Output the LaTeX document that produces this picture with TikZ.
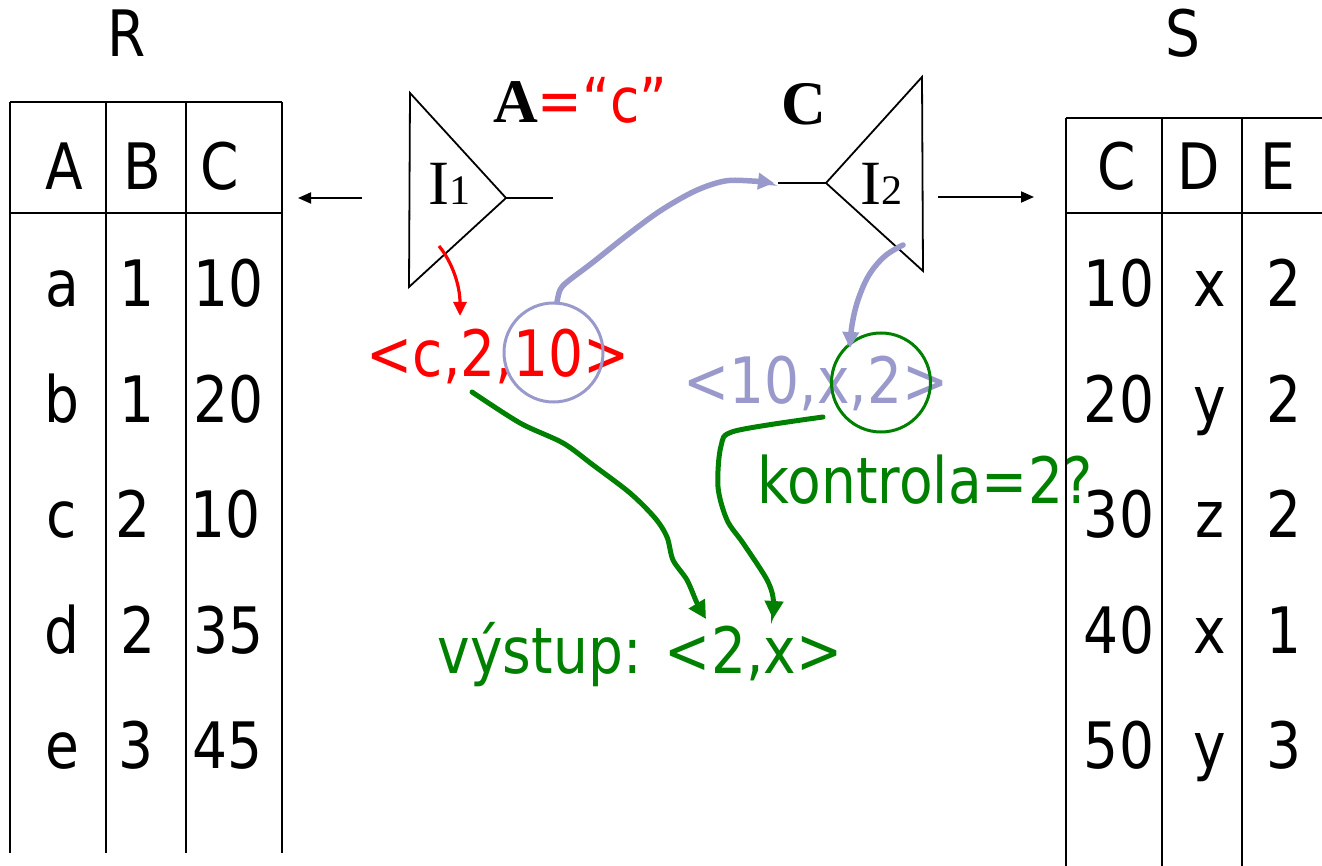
\documentclass[tikz,border=0pt]{standalone}
\usepackage{fontspec}
\setmainfont{DejaVu Sans}[FakeStretch=0.86]
\newfontfamily\timesf{Liberation Serif}
\usetikzlibrary{arrows.meta}
\definecolor{lil}{RGB}{153,153,204}
\definecolor{grn}{RGB}{0,128,0}
\begin{document}
\begin{tikzpicture}[x=1pt,y=-1pt,
  txt/.style={anchor=base, inner sep=0pt, font=\fontsize{64}{72}\selectfont},
  grid/.style={line width=2.2pt, black},
  tri/.style={line width=1.8pt, black, line join=miter},
  blk/.style={line width=1.8pt, -{Triangle[length=13pt,width=11pt]}},
  lilarrow/.style={line width=5.5pt, lil, line cap=round, -{Triangle[length=16pt,width=16pt]}},
  grnarrow/.style={line width=5pt, grn, line cap=round, -{Triangle[length=18pt,width=18pt]}},
  redarrow/.style={line width=3.2pt, red, -{Triangle[length=14pt,width=13pt]}},
  ring/.style={circle, draw, minimum size=99pt, inner sep=0pt}]
\useasboundingbox (0,0) rectangle (1322,866);

% ---- table R
\node[txt] (titleR) at (127,57) {R};
\draw[grid] (10,102) -- (282,102);
\draw[grid] (10,213) -- (282,213);
\foreach \x in {10,106,186,282} \draw[grid] (\x,102) -- (\x,853);
\node[txt] (rhA) at (64,190) {A};
\node[txt] (rhB) at (142,190) {B};
\node[txt] (rhC) at (220,190) {C};
\foreach \a/\b/\c/\y/\bx/\cx [count=\i] in {a/1/10/307/137/229, b/1/20/422/137/229, c/2/10/537/133/226, d/2/35/653/138/229, e/3/45/768/136/228}{
  \node[txt] (ra\i) at (62,\y) {\a};
  \node[txt] (rb\i) at (\bx,\y) {\b};
  \node[txt] (rc\i) at (\cx,\y) {\c};
}

% ---- table S
\node[txt] (titleS) at (1183,57) {S};
\draw[grid] (1066,118) -- (1322,118);
\draw[grid] (1066,213) -- (1322,213);
\foreach \x in {1066,1162,1242} \draw[grid] (\x,118) -- (\x,866);
\node[txt] (shC) at (1117,190) {C};
\node[txt] (shD) at (1199,190) {D};
\node[txt] (shE) at (1278,190) {E};
\foreach \c/\d/\e/\y [count=\i] in {10/x/2/307, 20/y/2/422, 30/z/2/537, 40/x/1/653, 50/y/3/768}{
  \node[txt] (sc\i) at (1119,\y) {\c};
  \node[txt] (sd\i) at (1210,\y) {\d};
  \node[txt] (se\i) at (1284,\y) {\e};
}

% ---- index I1
\coordinate (t1a) at (410,93);
\coordinate (t1b) at (409,287);
\coordinate (t1tip) at (506,198);
\coordinate (t1end) at (553,198);
\draw[tri] (t1a) -- (t1tip) -- (t1b) -- cycle;
\draw[tri] (t1tip) -- (t1end);
\node[anchor=base west, inner sep=0pt] (I1) at (428,205)
  {{\timesf\fontsize{63}{70}\selectfont I}{\timesf\fontsize{42}{45}\selectfont 1}};
\coordinate (la1) at (362,198);
\coordinate (la2) at (298,198);
\draw[blk] (la1) -- (la2);
\node[anchor=base west, inner sep=0pt] (condA) at (493,123)
  {{\timesf\bfseries\fontsize{62}{70}\selectfont A}{\color{red}\fontsize{62}{70}\selectfont =“c”}};

% ---- index I2
\coordinate (t2a) at (922,77);
\coordinate (t2b) at (923,271);
\coordinate (t2tip) at (826,183);
\coordinate (t2start) at (778,183);
\draw[tri] (t2a) -- (t2tip) -- (t2b) -- cycle;
\draw[tri] (t2start) -- (t2tip);
\node[anchor=base west, inner sep=0pt] (I2) at (860,205)
  {{\timesf\fontsize{63}{70}\selectfont I}{\timesf\fontsize{42}{45}\selectfont 2}};
\coordinate (ra1) at (938,197);
\coordinate (ra2) at (1034,197);
\draw[blk] (ra1) -- (ra2);
\node[anchor=base, inner sep=0pt] (condC) at (804,125)
  {{\timesf\bfseries\fontsize{62}{70}\selectfont C}};

% ---- tuples
\node[txt, text=red] (tupR) at (498,377) {<c,2,10>};
\node[ring, draw=lil, line width=3pt] (c1) at (553.5,352.5) {};
\node[txt, text=lil] (tupS) at (816,403) {<10,x,2>};
\node[ring, draw=grn, line width=3pt] (c2) at (881,382.5) {};
\node[txt, text=grn] (kontrola) at (925,503) {kontrola=2?};
\node[txt, text=grn] (vystup) at (640,673) {výstup: <2,x>};

% ---- red arrow from I1 to tuple
\coordinate (rs) at (439,246);
\coordinate (re) at (460,316);
\draw[redarrow] (rs) .. controls (452,262) and (460,285) .. (re);

% ---- lilac arrows
\draw[lilarrow] plot[smooth, tension=0.55] coordinates {(557,302) (560,290) (567,282) (592,263) (626,236) (660,211) (695,191) (725,181) (752,181) (774,183)};
\draw[lilarrow] plot[smooth, tension=0.6] coordinates {(903,245) (885,256) (869,275) (858,300) (852,325) (850,348)};

% ---- green arrows
\draw[grnarrow] plot[smooth, tension=0.5] coordinates {(472,392) (520,423) (563,443) (593,465) (630,493) (655,518) (667,537) (673,560) (687,580) (697,603) (706,619)};
\draw[grnarrow] plot[smooth, tension=0.5] coordinates {(823,417) (735,431) (721,446) (718,487) (727,520) (743,543) (766,578) (773,597) (773,619)};
\end{tikzpicture}
\end{document}
